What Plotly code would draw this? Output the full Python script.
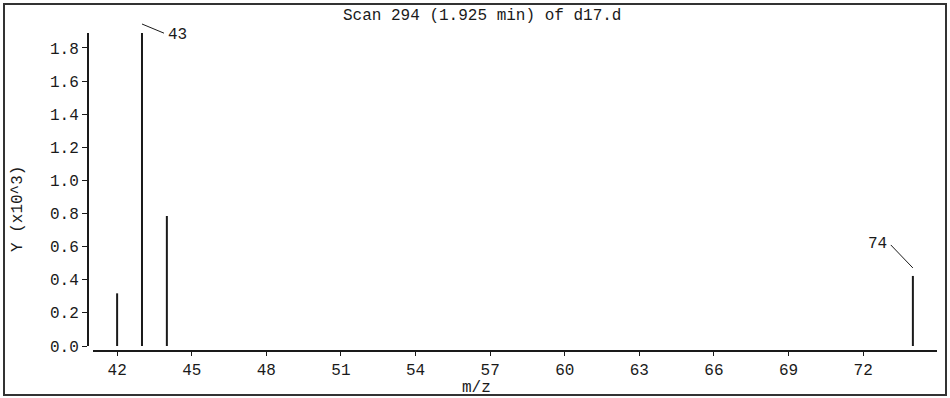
import plotly.graph_objects as go

# ---- data ----
mz_values = [42, 43, 44, 74]
intensity = [0.318, 1.89, 0.785, 0.423]   # Y (x10^3)
labeled_peaks = [43, 74]
x_ticks = [42, 45, 48, 51, 54, 57, 60, 63, 66, 69, 72]
y_ticks = [0.0, 0.2, 0.4, 0.6, 0.8, 1.0, 1.2, 1.4, 1.6, 1.8]
title_text = "Scan 294 (1.925 min) of d17.d"
x_title = "m/z"
y_title = "Y (x10^3)"

W, H = 950, 398
ML, MR, MT, MB = 88, 13, 33, 47
PW, PH = W - ML - MR, H - MT - MB

def px_x(p):
    return (p - ML) / PW

def px_y(p):
    return (H - MB - p) / PH

FONT = "Liberation Mono"
FS = 16
INK = "#1a1a1a"

# stick spectrum built from data
xs, ys = [], []
for m, v in zip(mz_values, intensity):
    xs += [m, m, None]
    ys += [0, v, None]

fig = go.Figure()
fig.add_trace(go.Scatter(x=xs, y=ys, mode="lines",
                         line=dict(color=INK, width=2),
                         connectgaps=False, hoverinfo="skip",
                         showlegend=False))

annotations = []
for m, v in zip(mz_values, intensity):
    if m not in labeled_peaks:
        continue
    if v > 1.5:  # top peak: label to the right
        annotations.append(dict(x=m, y=v, xref="x", yref="y", text=" ",
                                font=dict(size=1), showarrow=True,
                                arrowhead=0, arrowwidth=1, arrowcolor=INK,
                                ax=24, ay=10, yshift=9))
        annotations.append(dict(x=m, y=v, xref="x", yref="y", text=str(m),
                                showarrow=False, xanchor="left",
                                yanchor="middle", xshift=24, yshift=-2,
                                font=dict(family=FONT, size=FS, color=INK)))
    else:  # label up-left
        annotations.append(dict(x=m, y=v, xref="x", yref="y", text=" ",
                                font=dict(size=1), showarrow=True,
                                arrowhead=0, arrowwidth=1, arrowcolor=INK,
                                ax=-24, ay=-25, yshift=8))
        annotations.append(dict(x=m, y=v, xref="x", yref="y", text=str(m),
                                showarrow=False, xanchor="right",
                                yanchor="middle", xshift=-24, yshift=32,
                                font=dict(family=FONT, size=FS, color=INK)))

annotations.append(dict(x=px_x(482), y=px_y(16), xref="paper", yref="paper",
                        text=title_text, showarrow=False, xanchor="center",
                        yanchor="middle",
                        font=dict(family=FONT, size=FS, color=INK)))
annotations.append(dict(x=px_x(476), y=px_y(388), xref="paper", yref="paper",
                        text=x_title, showarrow=False, xanchor="center",
                        yanchor="middle",
                        font=dict(family=FONT, size=FS, color=INK)))
annotations.append(dict(x=px_x(18), y=px_y(209), xref="paper", yref="paper",
                        text=y_title, showarrow=False, textangle=-90,
                        xanchor="center", yanchor="middle",
                        font=dict(family=FONT, size=FS, color=INK)))

fig.update_layout(
    width=W, height=H,
    margin=dict(l=ML, r=MR, t=MT, b=MB, pad=0),
    paper_bgcolor="white", plot_bgcolor="white",
    font=dict(family=FONT, size=FS, color=INK),
    xaxis=dict(range=[41.03, 74.97], domain=[5 / PW, 1],
               anchor="free", position=0,
               tickvals=x_ticks, ticktext=[str(t) for t in x_ticks],
               ticks="outside", ticklen=4, tickwidth=1, tickcolor=INK,
               showline=True, linecolor=INK, linewidth=2,
               showgrid=False, zeroline=False,
               tickfont=dict(family=FONT, size=FS, color=INK)),
    yaxis=dict(range=[0, 1.89], domain=[5 / PH, 1],
               anchor="free", position=0,
               tickvals=y_ticks, ticktext=[f"{t:.1f}" for t in y_ticks],
               ticks="outside", ticklen=5, tickwidth=1, tickcolor=INK,
               showline=True, linecolor=INK, linewidth=2,
               showgrid=False, zeroline=False,
               tickfont=dict(family=FONT, size=FS, color=INK)),
    annotations=annotations,
    shapes=[dict(type="rect", xref="paper", yref="paper",
                 x0=px_x(4), x1=px_x(946), y0=px_y(395), y1=px_y(4),
                 line=dict(color="#333333", width=2))],
    showlegend=False,
)

fig.write_html("out.html")
